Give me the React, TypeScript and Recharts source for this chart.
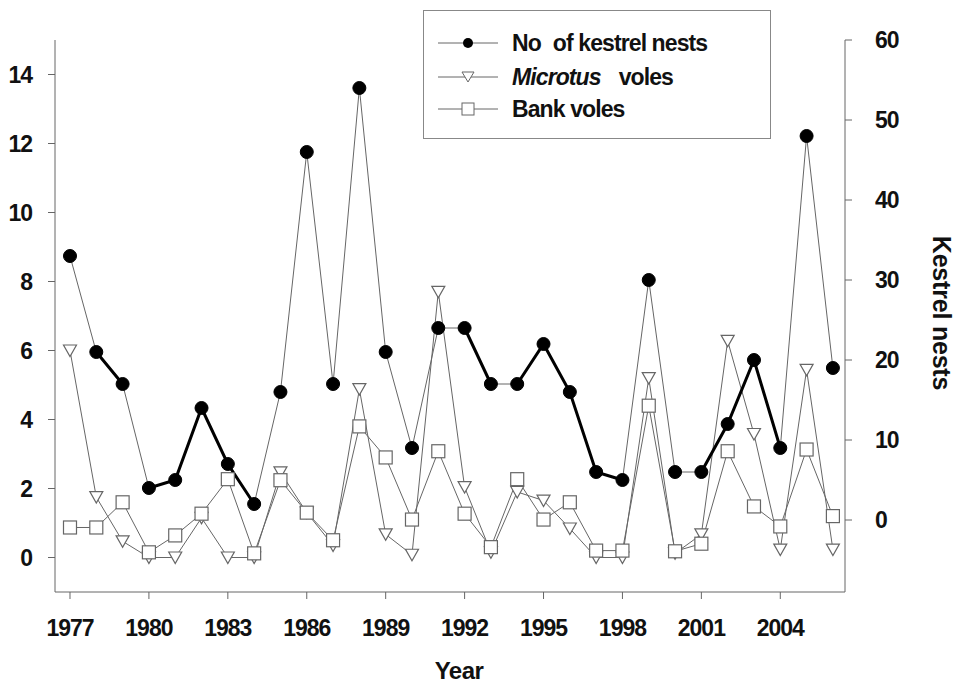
import React from "react";
import { ComposedChart, Line, XAxis, YAxis, Legend } from "recharts";

const years = [
  1977, 1978, 1979, 1980, 1981, 1982, 1983, 1984, 1985, 1986, 1987, 1988, 1989, 1990, 1991,
  1992, 1993, 1994, 1995, 1996, 1997, 1998, 1999, 2000, 2001, 2002, 2003, 2004, 2005, 2006,
];
const kestrelNests = [
  33, 21, 17, 4, 5, 14, 7, 2, 16, 46, 17, 54, 21, 9, 24, 24, 17, 17, 22, 16, 6, 5, 30, 6, 6, 12, 20, 9, 48, 19,
];
const microtusVoles = [
  6.0, 1.75, 0.47, 0, 0, 1.15, 0, 0, 2.47, 1.3, 0.35, 4.88, 0.67, 0.08, 7.7, 2.04, 0.15, 1.9, 1.65, 0.84, 0, 0,
  5.2, 0.12, 0.67, 6.28, 3.58, 0.23, 5.44, 0.23,
];
const bankVoles = [
  0.87, 0.87, 1.6, 0.15, 0.64, 1.27, 2.27, 0.12, 2.24, 1.3, 0.5, 3.8, 2.9, 1.1, 3.08, 1.27, 0.3, 2.27, 1.1, 1.6,
  0.2, 0.2, 4.4, 0.18, 0.4, 3.08, 1.48, 0.9, 3.13, 1.2,
];
// year ranges where the kestrel line is drawn heavy
const thickRuns = [
  [1978, 1979],
  [1980, 1984],
  [1992, 1993],
  [1994, 1998],
  [2001, 2004],
];
const yearTicks = [1977, 1980, 1983, 1986, 1989, 1992, 1995, 1998, 2001, 2004];
const voleTicks = [0, 2, 4, 6, 8, 10, 12, 14];
const nestTicks = [0, 10, 20, 30, 40, 50, 60];

const data = years.map((year, i) => {
  const runIdx = thickRuns.findIndex(([a, b]) => year >= a && year <= b);
  return {
    year,
    nests: kestrelNests[i],
    microtus: microtusVoles[i],
    bank: bankVoles[i],
    thickA: runIdx >= 0 && runIdx % 2 === 0 ? kestrelNests[i] : null,
    thickB: runIdx >= 0 && runIdx % 2 === 1 ? kestrelNests[i] : null,
  };
});

const FONT = '"Liberation Sans", Arial, sans-serif';
const GREY = "#666";
const tickStyle = { fill: "#111", fontSize: 23, fontWeight: 700, fontFamily: FONT, letterSpacing: -1 };

const CircleDot = (p: any) =>
  p.cx == null ? null : <circle key={`c${p.index}`} cx={p.cx} cy={p.cy} r={6.5} fill="#000" stroke="#000" />;

const TriDot = (p: any) =>
  p.cx == null ? null : (
    <path
      key={`t${p.index}`}
      d={`M${p.cx - 6.5},${p.cy - 5.5}L${p.cx + 6.5},${p.cy - 5.5}L${p.cx},${p.cy + 6}Z`}
      fill="#fff"
      stroke={GREY}
      strokeWidth={1.2}
    />
  );

const SquareDot = (p: any) =>
  p.cx == null ? null : (
    <rect
      key={`s${p.index}`}
      x={p.cx - 6.5}
      y={p.cy - 6.5}
      width={13}
      height={13}
      fill="#fff"
      stroke={GREY}
      strokeWidth={1.2}
    />
  );

const LegendBox = () => {
  const rows = [32, 66, 98];
  const text = { fontSize: 23, fontWeight: 700, fontFamily: FONT, fill: "#111", letterSpacing: -0.9 };
  return (
    <div style={{ width: 348, height: 129, border: "1.5px solid #888", boxSizing: "border-box", background: "#fff" }}>
      <svg width={345} height={126} style={{ display: "block" }}>
        {rows.map((y) => (
          <line key={y} x1={14} x2={74} y1={y} y2={y} stroke={GREY} strokeWidth={1} />
        ))}
        <circle cx={44} cy={rows[0]} r={5} fill="#000" />
        <path d={`M38,${rows[1] - 5}L50,${rows[1] - 5}L44,${rows[1] + 5}Z`} fill="#fff" stroke={GREY} />
        <rect x={38} y={rows[2] - 6} width={12} height={12} fill="#fff" stroke={GREY} />
        <text x={88} y={rows[0]} dy="0.36em" {...text}>
          No<tspan dx={12}>of kestrel nests</tspan>
        </text>
        <text x={88} y={rows[1]} dy="0.36em" {...text}>
          <tspan fontStyle="italic">Microtus</tspan>
          <tspan dx={18}>voles</tspan>
        </text>
        <text x={88} y={rows[2]} dy="0.36em" {...text}>
          Bank voles
        </text>
      </svg>
    </div>
  );
};

export default function App() {
  return (
    <div style={{ position: "absolute", left: 0, top: 0, width: 959, height: 683, background: "#fff" }}>
      <ComposedChart width={959} height={683} data={data} margin={{ top: 40, right: 0, bottom: 0, left: 0 }}>
        <XAxis
          dataKey="year"
          type="number"
          domain={[1976.43, 2006.46]}
          ticks={yearTicks}
          allowDataOverflow
          height={91}
          stroke={GREY}
          tickSize={7}
          tickMargin={21}
          tick={tickStyle}
          label={{
            content: ({ viewBox }: any) => (
              <text
                x={viewBox.x + viewBox.width / 2 + 9}
                y={viewBox.y + 78}
                textAnchor="middle"
                dy="0.36em"
                style={{ ...tickStyle, fontSize: 24, letterSpacing: -0.5 }}
              >
                Year
              </text>
            ),
          }}
        />
        <YAxis
          yAxisId="voles"
          orientation="left"
          domain={[-1, 15]}
          ticks={voleTicks}
          allowDataOverflow
          width={55}
          stroke={GREY}
          tickSize={7}
          tickMargin={16}
          tick={tickStyle}
        />
        <YAxis
          yAxisId="nests"
          orientation="right"
          domain={[-9, 60]}
          ticks={nestTicks}
          allowDataOverflow
          width={114}
          stroke={GREY}
          tickSize={7}
          tickMargin={23}
          tick={tickStyle}
          label={{
            content: ({ viewBox }: any) => {
              const x = viewBox.x + 97;
              const y = viewBox.y + viewBox.height / 2 - 3;
              return (
                <text
                  x={x}
                  y={y}
                  transform={`rotate(90, ${x}, ${y})`}
                  textAnchor="middle"
                  dy="0.36em"
                  style={{ ...tickStyle, fontSize: 25, letterSpacing: -0.2 }}
                >
                  Kestrel nests
                </text>
              );
            },
          }}
        />
        <Legend
          layout="vertical"
          align="center"
          verticalAlign="middle"
          content={<LegendBox />}
          wrapperStyle={{ position: "absolute", left: 423, top: 10, width: 348, height: 129 }}
        />
        <Line
          yAxisId="voles"
          dataKey="microtus"
          name="Microtus voles"
          type="linear"
          stroke={GREY}
          strokeWidth={1}
          dot={TriDot}
          activeDot={false}
          isAnimationActive={false}
        />
        <Line
          yAxisId="voles"
          dataKey="bank"
          name="Bank voles"
          type="linear"
          stroke={GREY}
          strokeWidth={1}
          dot={SquareDot}
          activeDot={false}
          isAnimationActive={false}
        />
        <Line
          yAxisId="nests"
          dataKey="nests"
          name="No of kestrel nests"
          type="linear"
          stroke={GREY}
          strokeWidth={1}
          dot={CircleDot}
          activeDot={false}
          isAnimationActive={false}
        />
        <Line
          yAxisId="nests"
          dataKey="thickA"
          legendType="none"
          type="linear"
          stroke="#000"
          strokeWidth={3}
          dot={false}
          activeDot={false}
          connectNulls={false}
          isAnimationActive={false}
        />
        <Line
          yAxisId="nests"
          dataKey="thickB"
          legendType="none"
          type="linear"
          stroke="#000"
          strokeWidth={3}
          dot={false}
          activeDot={false}
          connectNulls={false}
          isAnimationActive={false}
        />
      </ComposedChart>
    </div>
  );
}
